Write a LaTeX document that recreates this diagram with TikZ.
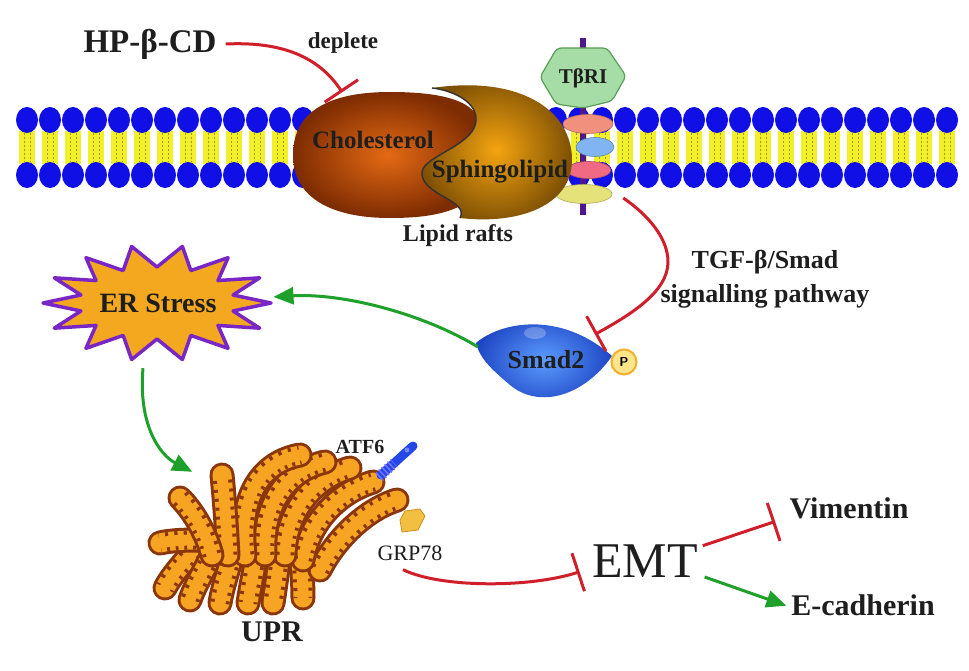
\documentclass[tikz,border=0pt]{standalone}
\usepackage{fontspec}
\setmainfont{Liberation Serif}
\usetikzlibrary{arrows.meta,shapes.geometric}
\definecolor{redc}{HTML}{D01F2A}
\definecolor{greenc}{HTML}{1FA02A}
\definecolor{headblue}{HTML}{1010E6}
\definecolor{tailyel}{HTML}{F2F028}
\definecolor{tailline}{HTML}{9A9A20}
\definecolor{rodpurple}{HTML}{50168C}
\definecolor{pinkA}{HTML}{F2907E}
\definecolor{blueA}{HTML}{80B4F2}
\definecolor{pinkB}{HTML}{F06A84}
\definecolor{yelA}{HTML}{E6E27A}
\definecolor{hexfill}{HTML}{A6DCA6}
\definecolor{hexdraw}{HTML}{5A9E5A}
\definecolor{cholin}{HTML}{E46A14}
\definecolor{cholout}{HTML}{7E2C02}
\definecolor{sphin}{HTML}{F4A410}
\definecolor{sphout}{HTML}{7E5004}
\definecolor{starfill}{HTML}{F4A820}
\definecolor{starline}{HTML}{7A26C6}
\definecolor{smadin}{HTML}{5C9CFF}
\definecolor{smadout}{HTML}{1E46C4}
\definecolor{pyel}{HTML}{FFE58A}
\definecolor{porange}{HTML}{F0B030}
\definecolor{golor}{HTML}{F6A422}
\definecolor{golbr}{HTML}{8A360A}
\definecolor{atfblue}{HTML}{2448E8}
\definecolor{gemyel}{HTML}{F2C040}
\definecolor{gemor}{HTML}{D09020}
\definecolor{txt}{HTML}{1E1E1E}
\tikzset{
  lbl/.style={font=\bfseries\fontsize{#1pt}{#1pt}\selectfont, text=txt, inner sep=1pt},
  lblr/.style={font=\fontsize{#1pt}{#1pt}\selectfont, text=txt, inner sep=1pt},
  inhib/.style={draw=redc, line width=3pt, -{Bar[width=40pt,line width=3pt]}},
  act/.style={draw=greenc, line width=3pt, -{Triangle[length=20pt,width=17pt]}},
  recpart/.style={ellipse, inner sep=0pt, line width=0.6pt},
}
\newcommand{\finger}[1]{%
  \draw[golbr, line width=25pt, line cap=round] #1;
  \draw[golor, line width=19pt, line cap=round] #1;
  \draw[golbr, line width=19pt, dash pattern=on 3pt off 6pt] #1;
  \draw[golor, line width=11pt, line cap=round] #1;}
\begin{document}
\begin{tikzpicture}[x=1pt,y=-1pt]
\useasboundingbox (0,0) rectangle (969,671);
\fill[white] (0,0) rectangle (969,671);

% membrane
\foreach \k in {0,...,40}{
  \pgfmathsetmacro{\xx}{27+23*\k}
  \fill[tailyel] (\xx-8,131) rectangle (\xx+8,164);
  \draw[tailline, line width=0.7pt, dash pattern=on 2pt off 2pt] (\xx-3,133) -- (\xx-3,162) (\xx+3,133) -- (\xx+3,162);
  \fill[headblue] (\xx,120) ellipse [x radius=11pt, y radius=13pt];
  \fill[headblue] (\xx,175) ellipse [x radius=11pt, y radius=13pt];
}

% receptor
\draw[line width=6pt, draw=rodpurple] (583,38) -- (583,215);
\node[recpart, fill=pinkA, draw=pinkA!75!black, minimum width=50pt, minimum height=19pt] (rp1) at (588,124) {};
\node[recpart, fill=blueA, draw=blueA!75!black, minimum width=38pt, minimum height=19pt] (rb) at (595,147) {};
\node[recpart, fill=pinkB, draw=pinkB!75!black, minimum width=44pt, minimum height=17pt] (rp2) at (589,170) {};
\node[recpart, fill=yelA, draw=yelA!75!black, minimum width=56pt, minimum height=19pt] (recy) at (584,194) {};
\filldraw[fill=hexfill, draw=hexdraw, line width=1.2pt, rounded corners=4pt]
  (557,48) -- (607,48) -- (626,76) -- (612,101) -- (583,108) -- (556,104) -- (540,77) -- cycle;
\node[lbl=21] (tbri) at (583,78) {TβRI};

% lipid raft
\shade[inner color=cholin, outer color=cholout]
  (293,155) .. controls (293,105) and (340,92) .. (390,92)
  .. controls (440,92) and (482,100) .. (480,130) -- (470,200)
  .. controls (450,215) and (420,218) .. (390,218)
  .. controls (335,218) and (293,200) .. (293,155) -- cycle;
\node[ellipse, minimum width=184pt, minimum height=126pt, inner sep=0pt] (chol) at (386,155) {};
\shade[inner color=sphin, outer color=sphout]
  (432,88) .. controls (520,75) and (572,110) .. (572,160)
  .. controls (572,205) and (520,225) .. (460,218)
  .. controls (470,200) and (420,195) .. (422,172)
  .. controls (424,155) and (478,145) .. (476,118)
  .. controls (475,100) and (450,90) .. (432,88) -- cycle;
\draw[black!80, line width=1.4pt]
  (460,218) .. controls (470,200) and (420,195) .. (422,172)
  .. controls (424,155) and (478,145) .. (476,118)
  .. controls (475,100) and (450,90) .. (432,88);
\node[lbl=25] (cholt) at (373,140) {Cholesterol};
\node[lbl=25] (sph) at (500,172) {Sphingolipid};
\node[lbl=24] (lr) at (458,236) {Lipid rafts};

% top labels
\node[lbl=33] (hp) at (150,44) {HP-β-CD};
\node[lbl=23] (dep) at (343,43) {deplete};
\node[font=\bfseries\fontsize{26pt}{34pt}\selectfont, text=txt, align=center, inner sep=1pt] (tgf) at (765,279) {TGF-β/Smad\\signalling pathway};

% ER stress star
\filldraw[fill=starfill, draw=starline, line width=3.5pt, line join=round]
  plot[domain=0:27, samples=28] ({157+(114-36*mod(\x,2))*cos(\x*360/28)}, {303+(58-22*mod(\x,2))*sin(\x*360/28)}) -- cycle;
\node[ellipse, minimum width=232pt, minimum height=110pt, inner sep=0pt, lbl=28] (er) at (158,303) {ER Stress};

% Smad2
\shade[inner color=smadin, outer color=smadout]
  (476,343) .. controls (500,322) and (560,310) .. (612,356)
  .. controls (585,395) and (540,410) .. (510,385)
  .. controls (495,372) and (480,360) .. (476,343) -- cycle;
\fill[white, opacity=0.25] (535,333) ellipse [x radius=11pt, y radius=6pt];
\node[ellipse, minimum width=138pt, minimum height=72pt, inner sep=0pt, lbl=26] (smad) at (546,360) {Smad2};
\node[circle, fill=pyel, draw=porange, line width=2pt, minimum size=25pt, inner sep=0pt, font=\sffamily\bfseries\fontsize{13pt}{13pt}\selectfont] (pP) at (624,362) {P};

% UPR golgi
\finger{(200,545) .. controls (185,560) and (172,575) .. (165,588)}
\finger{(215,548) .. controls (205,570) and (195,585) .. (190,600)}
\finger{(235,548) .. controls (228,570) and (222,590) .. (220,603)}
\finger{(258,548) .. controls (254,570) and (250,590) .. (248,603)}
\finger{(280,550) .. controls (278,570) and (275,590) .. (273,603)}
\finger{(300,552) .. controls (302,570) and (303,585) .. (303,598)}
\finger{(205,540) .. controls (190,540) and (172,540) .. (160,543)}
\finger{(320,570) .. controls (335,540) and (365,510) .. (397,500)}
\finger{(303,560) .. controls (310,520) and (340,492) .. (373,482)}
\finger{(285,555) .. controls (286,510) and (315,478) .. (350,468)}
\finger{(265,555) .. controls (262,500) and (290,470) .. (325,462)}
\finger{(245,555) .. controls (238,495) and (262,462) .. (300,455)}
\finger{(228,555) .. controls (226,520) and (224,495) .. (222,475)}
\finger{(212,555) .. controls (205,530) and (192,510) .. (180,498)}
\node[minimum width=247pt, minimum height=160pt, inner sep=0pt] (golgi) at (276,530) {};
\draw[line width=9pt, line cap=round, atfblue] (381,475) -- (413,446);
\draw[line width=11pt, blue!55!white, dash pattern=on 1.5pt off 2.5pt] (379,477) -- (394,463);
\fill[white, opacity=0.35] (407,450) circle (2.5pt);
\filldraw[fill=gemyel, draw=gemor, line width=0.8pt] (400,520) -- (405,511) -- (420,509) -- (425,516) -- (418,530) -- (402,532) -- cycle;
\node[lbl=20] (atf) at (360,447) {ATF6};
\node[lblr=22] (grp) at (410,553) {GRP78};
\node[lbl=30] (upr) at (272,632) {UPR};

% EMT
\node[lblr=50] (emt) at (645,561) {EMT};
\node[lbl=30] (vim) at (849,508) {Vimentin};
\node[lbl=30] (ecad) at (863,605) {E-cadherin};

% connectors
\draw[inhib, shorten >=7pt] ([xshift=8pt]hp.east) .. controls (290,41) and (322,62) .. (chol.125);
\draw[inhib] ([xshift=11pt,yshift=-4pt]recy.east) .. controls (648,215) and (668,238) .. (668,262) .. controls (668,292) and (630,315) .. (smad.north east);
\draw[act, shorten <=3pt] (smad.170) .. controls (420,312) and (340,293) .. (er.3);
\draw[act] ([xshift=-15pt,yshift=-10pt]er.south) .. controls (138,425) and (160,455) .. ([xshift=40pt,yshift=-22pt]golgi.north west);
\draw[inhib, shorten >=12pt] ([xshift=-7pt,yshift=-8pt]grp.south) .. controls (440,588) and (530,588) .. ([yshift=-7pt]emt.west);
\draw[inhib, shorten <=4pt, shorten >=14pt] ([yshift=14pt]emt.east) -- ([yshift=-9pt]vim.west);
\draw[act, shorten <=6pt, shorten >=4pt] ([yshift=-14pt]emt.east) -- ([yshift=-2pt]ecad.west);
\end{tikzpicture}
\end{document}
